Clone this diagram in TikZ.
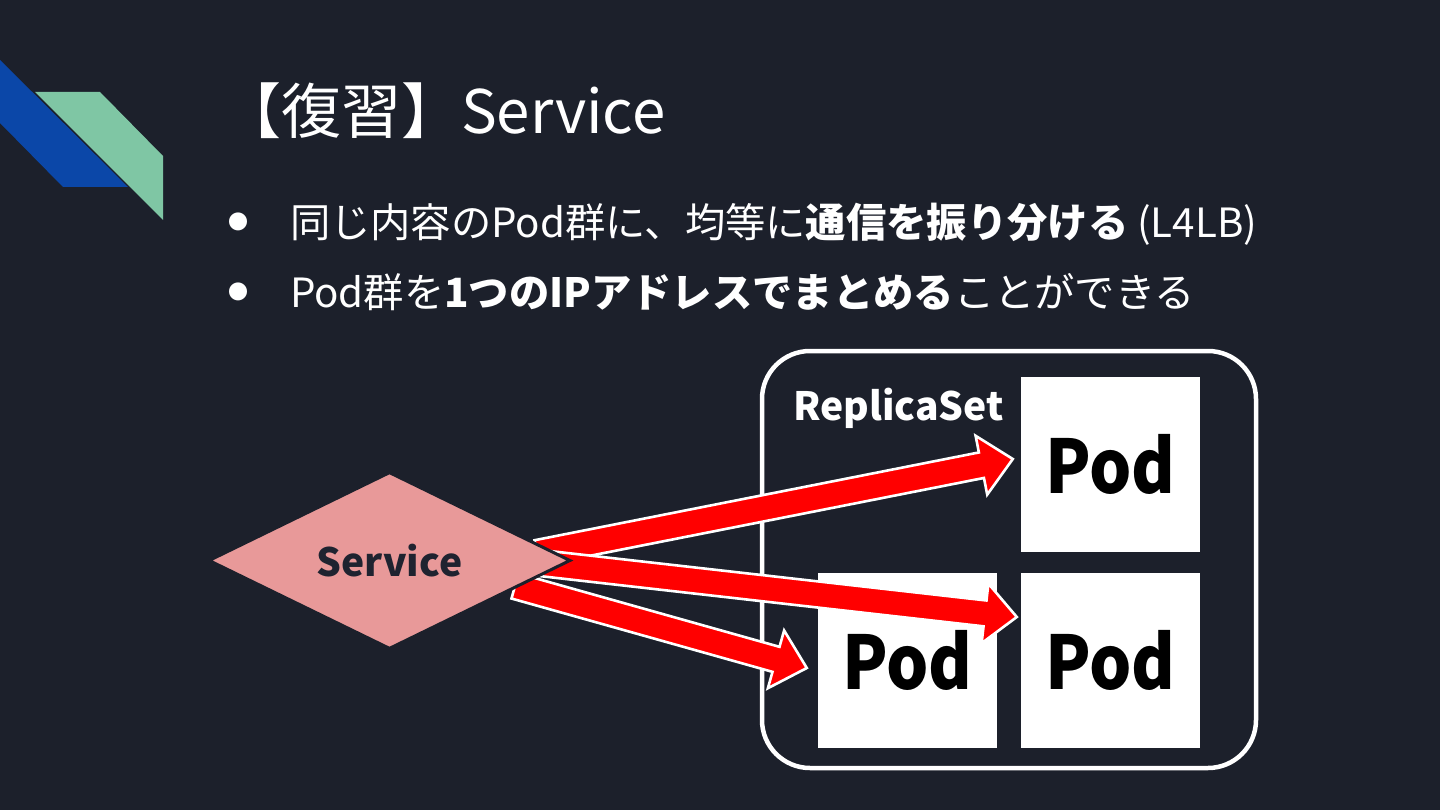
\documentclass[tikz,border=0pt]{standalone}
\usepackage{fontspec}
\setmainfont{Noto Sans CJK JP}
\newfontfamily\jp{Noto Sans CJK JP}
\usetikzlibrary{calc,shapes.geometric}
\definecolor{bg}{RGB}{28,32,43}
\definecolor{decoblue}{RGB}{11,71,168}
\definecolor{decogreen}{RGB}{127,198,164}
\definecolor{svcpink}{RGB}{232,153,153}
\definecolor{svctext}{RGB}{31,35,48}
\tikzset{
  txt/.style={inner sep=0pt, outer sep=0pt, text=white, anchor=base west},
  podbox/.style={fill=white, minimum width=179pt, minimum height=175pt, inner sep=0pt, font=\fontsize{74}{80}\selectfont\bfseries},
  fatarr/.style={fill=red, draw=white, line width=2.6pt, line join=miter},
}
\newcommand{\fatarrow}[2]{%
  \coordinate (hb) at ($(#2)!32pt!(#1)$);
  \filldraw[fatarr] ($(#1)!13pt!90:(#2)$) -- ($(hb)!13pt!90:(#2)$) -- ($(hb)!30pt!90:(#2)$) -- (#2)
     -- ($(hb)!30pt!-90:(#2)$) -- ($(hb)!13pt!-90:(#2)$) -- ($(#1)!13pt!-90:(#2)$) -- cycle;
}
\begin{document}
\begin{tikzpicture}[x=1pt,y=-1pt]
\fill[bg] (0,0) rectangle (1440,810);
\useasboundingbox (0,0) rectangle (1440,810);
% decoration
\fill[decoblue] (0,60) -- (128,187) -- (63,187) -- (0,123) -- cycle;
\fill[decogreen] (35,92) -- (100,92) -- (163,156) -- (163,220) -- cycle;
% title
\node[txt, font=\fontsize{60}{72}\selectfont] (title) at (221,134) {【復習】Service};
% bullets
\node[inner sep=0pt, text=white, font=\fontsize{20}{24}\selectfont] (b1) at (238,222) {●};
\node[inner sep=0pt, text=white, font=\fontsize{20}{24}\selectfont] (b2) at (238,292) {●};
\node[txt, font=\fontsize{40.3}{48}\selectfont] (l1) at (290,238) {同じ内容のPod群に、均等に\textbf{通信を振り分ける} (L4LB)};
\node[txt, font=\fontsize{40.3}{48}\selectfont] (l2) at (290,308) {Pod群を\textbf{1つのIPアドレスでまとめる}ことができる};
% replicaset
\node[draw=white, line width=4.5pt, rounded corners=48pt, minimum width=494pt, minimum height=417pt] (rs) at (1009,559.5) {};
\node[txt, font=\fontsize{39}{46}\selectfont\bfseries] (rslabel) at (793,420) {ReplicaSet};
% pods
\node[podbox] (pod1) at (1110.5,464.5) {\scalebox{0.9}[1]{Pod}};
\node[podbox] (pod2) at (907.5,660) {\scalebox{0.9}[1]{Pod}};
\node[podbox] (pod3) at (1110.5,660) {\scalebox{0.9}[1]{Pod}};
% arrows
\coordinate (t1) at (537,553);
\coordinate (t2) at (540,563);
\coordinate (t3) at (515,586);
\coordinate (h1) at ($(pod1.west)+(-8,-5.5)$);
\coordinate (h2) at ($(pod3.west)+(-4,-43)$);
\coordinate (h3) at ($(pod2.west)+(-11,8)$);
\fatarrow{t1}{h1}
\fatarrow{t3}{h3}
\fatarrow{t2}{h2}
% service diamond
\node[diamond, fill=svcpink, draw=bg, line width=3pt, minimum width=362pt, minimum height=177pt, inner sep=0pt, aspect=2.05, text=svctext, font=\fontsize{39}{46}\selectfont\bfseries] (svc) at (389.5,560.5) {Service};
\end{tikzpicture}
\end{document}
